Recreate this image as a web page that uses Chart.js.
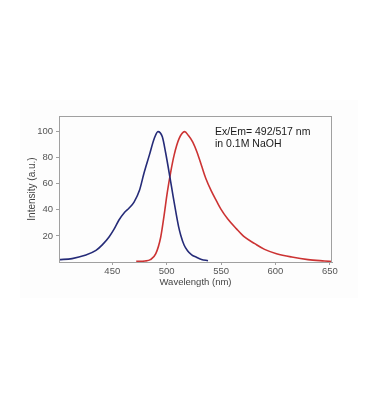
<!DOCTYPE html>
<html>
<head>
<meta charset="utf-8">
<script src="https://cdn.jsdelivr.net/npm/chart.js@4"></script>
<style>
  html, body { margin: 0; padding: 0; background: #fff; }
  #frame { position: absolute; left: 20px; top: 100px; width: 338px; height: 198px; background: #fdfdfd; }
  #chart { position: absolute; left: 0; top: 0; }
</style>
</head>
<body>
<div id="frame"></div>
<canvas id="chart" width="370" height="420"></canvas>
<script>
/* excitation (blue) */
const exWave = [401, 413, 425, 435, 441, 447, 451.5, 456, 461, 465.5, 470, 475, 479, 484, 488.5, 492,
                496, 499, 503, 506, 508.5, 511, 513, 516, 519, 523, 527, 532, 538];
const exInt  = [1.8, 2.6, 5.1, 8.9, 13.3, 19.2, 25, 32, 37.8, 41.4, 46, 55, 67.7, 81.8, 94.6, 100,
                96, 84, 65, 50, 38, 27, 20.4, 13, 8.9, 5.5, 3.8, 2, 1];

/* emission (red) */
const emWave = [472, 480, 485, 490, 494.5, 497.5, 500.5, 503.7, 506.8, 511.4, 516.5, 520, 524, 528,
                532, 536, 541, 546, 550, 556, 564, 571.5, 581, 590, 601, 615, 630, 645, 652];
const emInt  = [0.5, 0.8, 1.8, 6.4, 19, 35, 53, 69, 81.8, 94.6, 100, 97, 92, 84,
                74, 64, 54.5, 46.5, 40.4, 33.2, 25.6, 19.2, 14.1, 9.7, 6.4, 3.8, 1.8, 0.8, 0.4];

const xTicks = [450, 500, 550, 600, 650];
const yTicks = [20, 40, 60, 80, 100];
const noteLines = ['Ex/Em= 492/517 nm', 'in 0.1M NaOH'];

const toPts = (xs, ys) => xs.map((x, i) => ({ x, y: ys[i] }));

/* cadre complet + texte */
const boxPlugin = {
  id: 'box',
  afterDraw(chart) {
    const { ctx, chartArea: a } = chart;
    ctx.save();
    ctx.strokeStyle = '#a0a0a0';
    ctx.lineWidth = 1;
    ctx.strokeRect(a.left + 0.5, a.top + 0.5, a.right - a.left - 1, a.bottom - a.top);
    ctx.fillStyle = '#1a1a1a';
    ctx.font = '10.5px "Liberation Sans", Arial, sans-serif';
    ctx.textBaseline = 'top';
    noteLines.forEach((t, i) => ctx.fillText(t, a.left + 156, a.top + 11 + i * 11.5));
    ctx.restore();
  }
};

const tickFont = { family: '"Liberation Sans", Arial, sans-serif', size: 9.5 };

new Chart(document.getElementById('chart'), {
  type: 'line',
  data: {
    datasets: [
      { data: toPts(exWave, exInt), borderColor: '#252b78', borderWidth: 1.6,
        pointRadius: 0, cubicInterpolationMode: 'monotone' },
      { data: toPts(emWave, emInt), borderColor: '#cc3333', borderWidth: 1.6,
        pointRadius: 0, cubicInterpolationMode: 'monotone' },
    ],
  },
  options: {
    responsive: false,
    animation: false,
    layout: { padding: { top: 116, right: 38, bottom: 128, left: 0 } },
    plugins: { legend: { display: false }, tooltip: { enabled: false } },
    scales: {
      x: {
        type: 'linear', min: 401, max: 652,
        afterBuildTicks: s => { s.ticks = xTicks.map(v => ({ value: v })); },
        afterFit: s => { s.height = 30; },
        grid: { drawOnChartArea: false, tickLength: 3, color: '#a0a0a0' },
        border: { color: '#a0a0a0' },
        ticks: { color: '#555', font: tickFont, padding: 1, maxRotation: 0 },
        title: { display: true, text: 'Wavelength (nm)', color: '#444',
                 font: { family: tickFont.family, size: 9.5 }, padding: { top: 0, bottom: 4 } },
      },
      y: {
        min: 0, max: 112,
        afterBuildTicks: s => { s.ticks = yTicks.map(v => ({ value: v })); },
        afterFit: s => { s.width = 59; },
        grid: { drawOnChartArea: false, tickLength: 3, color: '#a0a0a0' },
        border: { color: '#a0a0a0' },
        ticks: { color: '#555', font: tickFont, padding: 3 },
        title: { display: true, text: 'Intensity (a.u.)', color: '#444',
                 font: { family: tickFont.family, size: 10 }, padding: { top: 26, bottom: 0 } },
      },
    },
  },
  plugins: [boxPlugin],
});
</script>
</body>
</html>
